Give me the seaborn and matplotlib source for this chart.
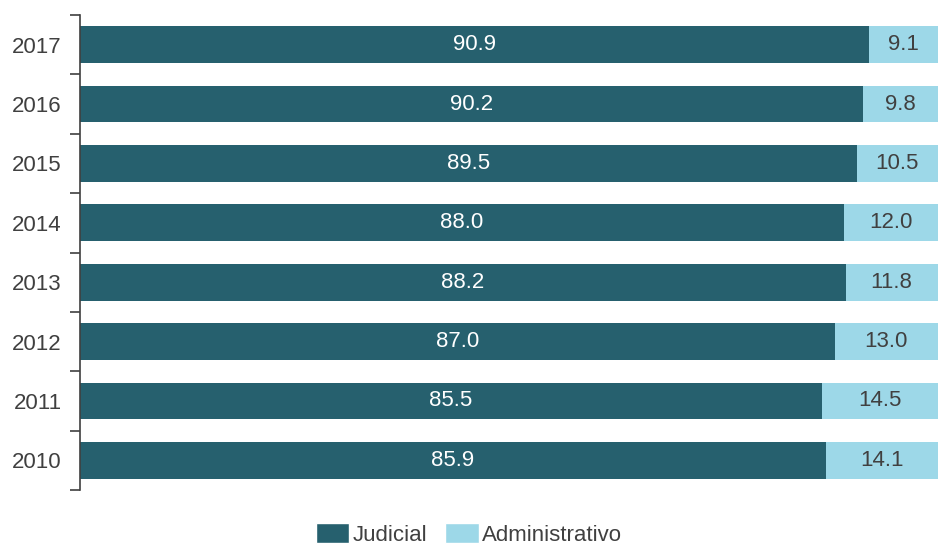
import pandas as pd
import matplotlib.pyplot as plt
import seaborn as sns
from matplotlib.patches import Patch

years = ['2017', '2016', '2015', '2014', '2013', '2012', '2011', '2010']
judicial = [90.9, 90.2, 89.5, 88.0, 88.2, 87.0, 85.5, 85.9]
administrativo = [9.1, 9.8, 10.5, 12.0, 11.8, 13.0, 14.5, 14.1]

dark = '#26606E'
light = '#9DD8E8'
text_col = '#404040'

df = pd.DataFrame({'year': years, 'Judicial': judicial, 'Administrativo': administrativo})
df['total'] = df['Judicial'] + df['Administrativo']

sns.set_style('white')
plt.rcParams['font.family'] = ['Liberation Sans', 'DejaVu Sans']

fig = plt.figure(figsize=(9.38, 5.48), dpi=100)
# the 0-100 axis runs a bit past the right edge of the picture
ax = fig.add_axes([80 / 938, 1 - 490 / 548, 868 / 938, (490 - 15) / 548])

# light bar is the full stack, dark one drawn on top of it
sns.barplot(data=df, y='year', x='total', order=years, color=light, width=0.62,
            saturation=1, linewidth=0, ax=ax, orient='h')
sns.barplot(data=df, y='year', x='Judicial', order=years, color=dark, width=0.62,
            saturation=1, linewidth=0, ax=ax, orient='h')

light_bars = ax.patches[:len(years)]
dark_bars = ax.patches[len(years):]
for bar, j, a in zip(light_bars, judicial, administrativo):
    ax.text(j + a / 2 - 0.6, bar.get_y() + bar.get_height() / 2, f'{a:.1f}',
            ha='center', va='center', fontsize=16, color=text_col)
for bar, j in zip(dark_bars, judicial):
    ax.text(j / 2, bar.get_y() + bar.get_height() / 2, f'{j:.1f}',
            ha='center', va='center', fontsize=16, color='white')

ax.set_xlim(0, 100)
ax.set_ylim(len(years) - 0.5, -0.5)
ax.set_xlabel('')
ax.set_ylabel('')
ax.set_xticks([])
for s in ['top', 'right', 'bottom']:
    ax.spines[s].set_visible(False)
ax.spines['left'].set_color(text_col)
ax.spines['left'].set_linewidth(1.2)

ax.set_yticks(range(len(years)))
ax.set_yticklabels(years, fontsize=16, color=text_col)
ax.tick_params(axis='y', which='major', left=False, length=0, pad=13)
ax.set_yticks([i - 0.5 for i in range(len(years) + 1)], minor=True)
ax.tick_params(axis='y', which='minor', left=True, length=7, width=1.2,
               color=text_col, direction='out')

handles = [Patch(facecolor=dark, label='Judicial'), Patch(facecolor=light, label='Administrativo')]
fig.legend(handles=handles, loc='center', bbox_to_anchor=(0.5, 0.025), ncol=2, frameon=False,
           fontsize=16, handlelength=1.5, handleheight=1.0, handletextpad=0.15,
           columnspacing=0.8, labelcolor=text_col, borderpad=0.2)

fig.savefig('out.png', dpi=100)
